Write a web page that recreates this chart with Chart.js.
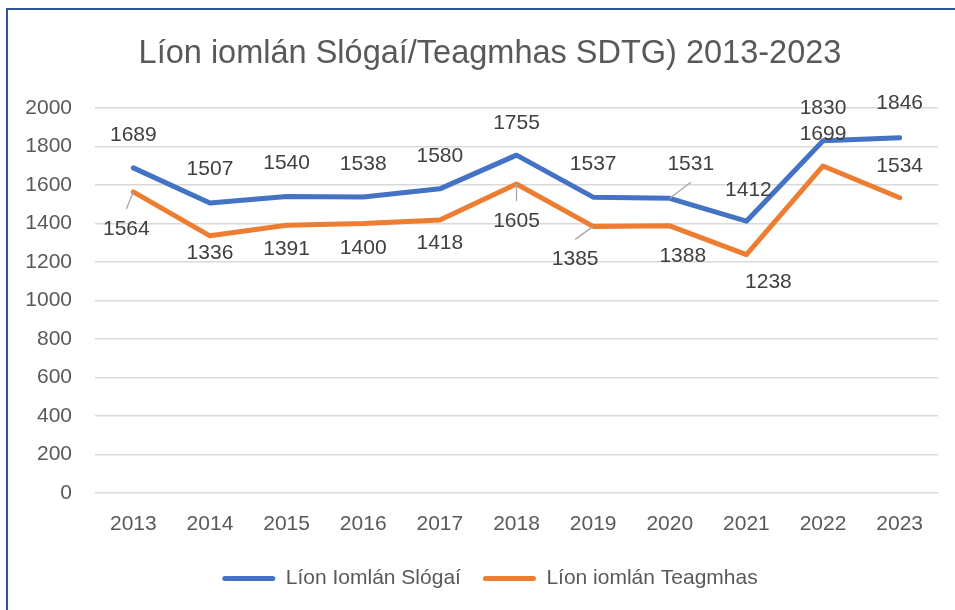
<!DOCTYPE html>
<html>
<head>
<meta charset="utf-8">
<script src="https://cdn.jsdelivr.net/npm/chart.js@4.4.1/dist/chart.umd.min.js"></script>
<style>
  body { margin: 0; background: #fff; }
  .wrap { position: relative; width: 955px; height: 610px; }
  .frame {
    position: absolute; left: 6px; top: 8px; right: 0; bottom: 0;
    border-left: 2px solid #2f5597; border-top: 2px solid #2f5597;
    pointer-events: none;
  }
</style>
</head>
<body>
<div class="wrap">
  <canvas id="sdtg-chart" width="955" height="610"></canvas>
  <div class="frame"></div>
</div>
<script>
const years = ["2013", "2014", "2015", "2016", "2017", "2018", "2019", "2020", "2021", "2022", "2023"];
const slogai = [1689, 1507, 1540, 1538, 1580, 1755, 1537, 1531, 1412, 1830, 1846];
const teagmhas = [1564, 1336, 1391, 1400, 1418, 1605, 1385, 1388, 1238, 1699, 1534];

// where each value label sits relative to its point [dx, dy], and which ones get a leader line
const slogaiLabelPos = [[0, -33], [0, -34], [0, -33], [0, -33], [0, -33], [0, -32], [0, -33], [21, -34], [2, -31], [0, -33], [0, -34]];
const teagmhasLabelPos = [[-7, 37], [0, 17], [0, 24], [0, 25], [0, 23], [0, 37], [-18, 33], [13, 30], [22, 28], [0, -32], [0, -32]];
const slogaiLeaders = [7];
const teagmhasLeaders = [0, 5, 6];

const FONT = "'Liberation Sans', Arial, sans-serif";
Chart.defaults.font.family = FONT;
Chart.defaults.color = "#595959";

const ctx = document.getElementById("sdtg-chart");

// draws the numbers next to each point (plus the little grey leader lines)
const valueLabels = {
  id: "valueLabels",
  afterDatasetsDraw(chart) {
    const c = chart.ctx;
    c.save();
    c.font = "21px " + FONT;
    c.fillStyle = "#404040";
    c.textAlign = "center";
    c.textBaseline = "middle";
    chart.data.datasets.forEach((ds, di) => {
      const meta = chart.getDatasetMeta(di);
      meta.data.forEach((pt, i) => {
        const [dx, dy] = ds.labelPos[i];
        const lx = pt.x + dx;
        const ly = pt.y + dy;
        if (ds.leaders.includes(i)) {
          const edge = dy > 0 ? ly - 20 : ly + 18;
          c.strokeStyle = "#a6a6a6";
          c.lineWidth = 1.3;
          c.beginPath();
          c.moveTo(pt.x, pt.y);
          c.lineTo(lx, edge);
          c.stroke();
        }
        c.fillText(String(ds.data[i]), lx, ly);
      });
    });
    c.restore();
  },
};

new Chart(ctx, {
  type: "line",
  data: {
    labels: years,
    datasets: [
      {
        label: "Líon Iomlán Slógaí",
        data: slogai,
        borderColor: "#4472c4",
        backgroundColor: "#4472c4",
        labelPos: slogaiLabelPos,
        leaders: slogaiLeaders,
      },
      {
        label: "Líon iomlán Teagmhas",
        data: teagmhas,
        borderColor: "#ed7d31",
        backgroundColor: "#ed7d31",
        labelPos: teagmhasLabelPos,
        leaders: teagmhasLeaders,
      },
    ],
  },
  options: {
    responsive: false,
    animation: false,
    layout: { padding: { left: 42, right: 17, top: 0, bottom: 11 } },
    elements: {
      point: { radius: 0, hoverRadius: 0 },
      line: { borderWidth: 5, tension: 0, borderJoinStyle: "round", borderCapStyle: "round" },
    },
    plugins: {
      title: {
        display: true,
        text: "Líon iomlán Slógaí/Teagmhas SDTG) 2013-2023",
        color: "#595959",
        font: { size: 32.5, weight: "normal" },
        padding: { top: 35, bottom: 34 },
      },
      legend: {
        position: "bottom",
        labels: {
          boxWidth: 53,
          boxHeight: 5,
          padding: 22,
          color: "#595959",
          font: { size: 21 },
          useBorderRadius: true,
          borderRadius: 2.5,
          generateLabels(chart) {
            return Chart.defaults.plugins.legend.labels
              .generateLabels(chart)
              .map((l) => ({ ...l, lineWidth: 0 }));
          },
        },
      },
      tooltip: { enabled: false },
    },
    scales: {
      x: {
        offset: true,
        grid: { display: false },
        border: { display: false },
        ticks: { padding: 11, color: "#595959", font: { size: 21 }, maxRotation: 0, autoSkip: false },
        afterFit(scale) {
          scale.height = 53;
        },
      },
      y: {
        min: 0,
        max: 2000,
        ticks: {
          stepSize: 200,
          padding: 23,
          color: "#595959",
          font: { size: 21 },
          callback: (v) => String(v),
        },
        grid: { color: "#d9d9d9", lineWidth: 1.5, drawTicks: false },
        border: { display: false },
        afterFit(scale) {
          scale.width = 53;
          // tick labels reach further left than the axis box; don't clip them
          scale._computeLabelArea = () => null;
        },
      },
    },
  },
  plugins: [valueLabels],
});
</script>
</body>
</html>
